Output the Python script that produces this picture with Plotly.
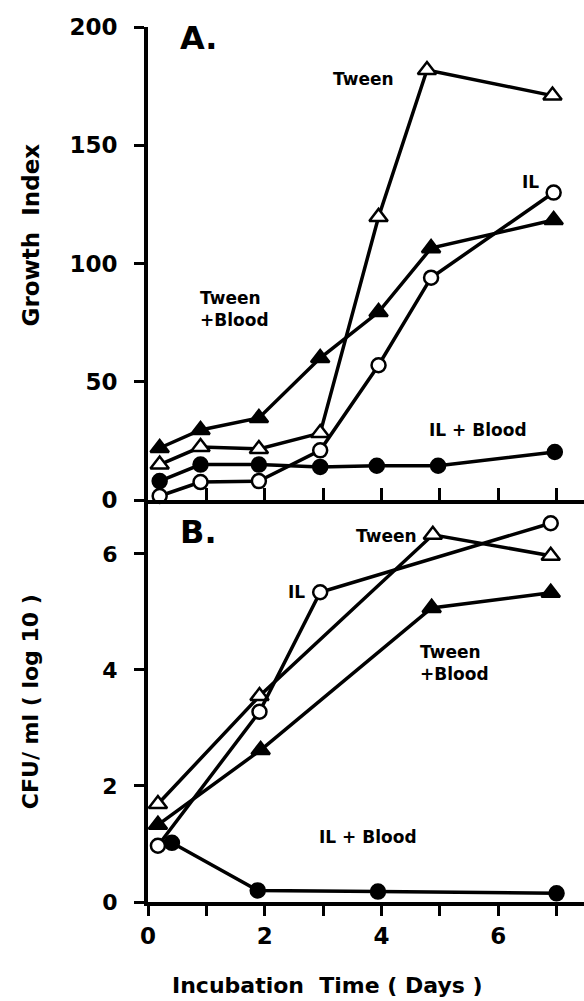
import plotly.graph_objects as go

# ---- data ----
# Panel A: Growth Index
days_a = [0.2, 0.9, 1.9, 2.95, 3.95, 4.78, 6.93]
tween_a = [15, 22.4, 21.6, 28.3, 119.7, 181.8, 171]
days_tb_a = [0.2, 0.9, 1.9, 2.95, 3.95, 4.85, 6.95]
tween_blood_a = [22, 29.6, 34.7, 60, 79.5, 106.5, 118.4]
il_a = [1.7, 7.6, 8, 21, 57, 94, 130]
days_ilb_a = [0.2, 0.9, 1.9, 2.95, 3.92, 4.97, 6.97]
il_blood_a = [8, 15, 15, 14, 14.5, 14.5, 20.3]

# Panel B: CFU/ml (log10)
days_b = [0.17, 1.91, 4.88, 6.9]
tween_b = [1.69, 3.55, 6.33, 5.97]
days_il_b = [0.17, 1.91, 2.95, 6.9]
il_b = [0.97, 3.28, 5.34, 6.53]
days_tb_b = [0.17, 1.93, 4.86, 6.9]
tween_blood_b = [1.33, 2.62, 5.07, 5.33]
days_ilb_b = [0.41, 1.88, 3.94, 7.0]
il_blood_b = [1.02, 0.2, 0.18, 0.15]

FONT = "DejaVu Sans, Arial, sans-serif"
LW = 3.5

def series(x, y, symbol, filled, xa, ya):
    return go.Scatter(
        x=x, y=y, mode="lines+markers", xaxis=xa, yaxis=ya,
        line=dict(color="black", width=LW),
        marker=dict(symbol=symbol, size=16 if "triangle" in symbol else 14,
                    color="black" if filled else "white",
                    line=dict(color="black", width=2.5)),
        cliponaxis=False, showlegend=False)

fig = go.Figure()
# Panel A
fig.add_trace(series(days_a, tween_a, "triangle-up", False, "x", "y"))
fig.add_trace(series(days_tb_a, tween_blood_a, "triangle-up", True, "x", "y"))
fig.add_trace(series(days_tb_a, il_a, "circle", False, "x", "y"))
fig.add_trace(series(days_ilb_a, il_blood_a, "circle", True, "x", "y"))
# Panel B
fig.add_trace(series(days_b, tween_b, "triangle-up", False, "x2", "y2"))
fig.add_trace(series(days_tb_b, tween_blood_b, "triangle-up", True, "x2", "y2"))
fig.add_trace(series(days_il_b, il_b, "circle", False, "x2", "y2"))
fig.add_trace(series(days_ilb_b, il_blood_b, "circle", True, "x2", "y2"))

XR = [0, 7.47]
SPLIT = 0.4594

fig.update_layout(
    width=584, height=1001,
    margin=dict(l=148, r=0, t=27, b=99),
    paper_bgcolor="white", plot_bgcolor="white",
    font=dict(family=FONT, color="black", weight="bold"),
    xaxis=dict(domain=[0, 1], anchor="y", range=XR, showgrid=False, zeroline=False,
               showline=True, linewidth=4, linecolor="black",
               tickvals=[1, 2, 3, 4, 5, 6, 7], ticks="inside", ticklen=12, tickwidth=3,
               tickcolor="black", showticklabels=False),
    yaxis=dict(domain=[SPLIT, 1], anchor="x", range=[0, 200], showgrid=False, zeroline=False,
               showline=True, linewidth=4, linecolor="black",
               tickvals=[0, 50, 100, 150, 200], ticks="outside", ticklen=10, tickwidth=3,
               tickcolor="black", ticklabelstandoff=12,
               tickfont=dict(size=23, family=FONT, weight="bold")),
    xaxis2=dict(domain=[0, 1], anchor="y2", range=XR, showgrid=False, zeroline=False,
                showline=True, linewidth=4, linecolor="black",
                tickvals=[0, 1, 2, 3, 4, 5, 6, 7], ticktext=["0", "", "2", "", "4", "", "6", ""],
                ticks="outside", ticklen=10, tickwidth=3, tickcolor="black",
                tickfont=dict(size=23, family=FONT, weight="bold")),
    yaxis2=dict(domain=[0, SPLIT], anchor="x2", range=[0, 6.93], showgrid=False, zeroline=False,
                showline=True, linewidth=4, linecolor="black",
                tickvals=[0, 2, 4, 6], ticks="outside", ticklen=10, tickwidth=3,
                tickcolor="black", ticklabelstandoff=12,
                tickfont=dict(size=22, family=FONT, weight="bold")),
)

def ann(text, x, y, xref, yref, size=17, xanchor="center", align="center", angle=0):
    fig.add_annotation(text=text, x=x, y=y, xref=xref, yref=yref, showarrow=False,
                       xanchor=xanchor, yanchor="middle", align=align, textangle=angle,
                       font=dict(family=FONT, size=size, color="black", weight="bold"))

# Panel A labels
ann("A.", 0.87, 195.5, "x", "y", size=32)
ann("Tween", 3.70, 178, "x", "y")
ann("IL", 6.56, 134.5, "x", "y")
ann("Tween<br>+Blood", 0.85, 80.8, "x", "y", xanchor="left", align="left")
ann("IL + Blood", 5.65, 29.6, "x", "y")
# Panel B labels
ann("B.", 0.87, 6.38, "x2", "y2", size=32)
ann("Tween", 4.08, 6.31, "x2", "y2")
ann("IL", 2.55, 5.34, "x2", "y2")
ann("Tween<br>+Blood", 4.63, 4.12, "x2", "y2", xanchor="left", align="left")
ann("IL + Blood", 3.77, 1.12, "x2", "y2")

# Axis titles
ann("Growth  Index", -0.268, 0.762, "paper", "paper", size=23, angle=-90)
ann("CFU/ ml ( log 10 )", -0.268, 0.2286, "paper", "paper", size=22, angle=-90)
ann("Incubation  Time ( Days )", 0.411, -0.0949, "paper", "paper", size=22)

fig.write_html("out.html", config={"displayModeBar": False},
               post_script="document.body.style.margin='0';document.body.style.overflow='hidden';")
